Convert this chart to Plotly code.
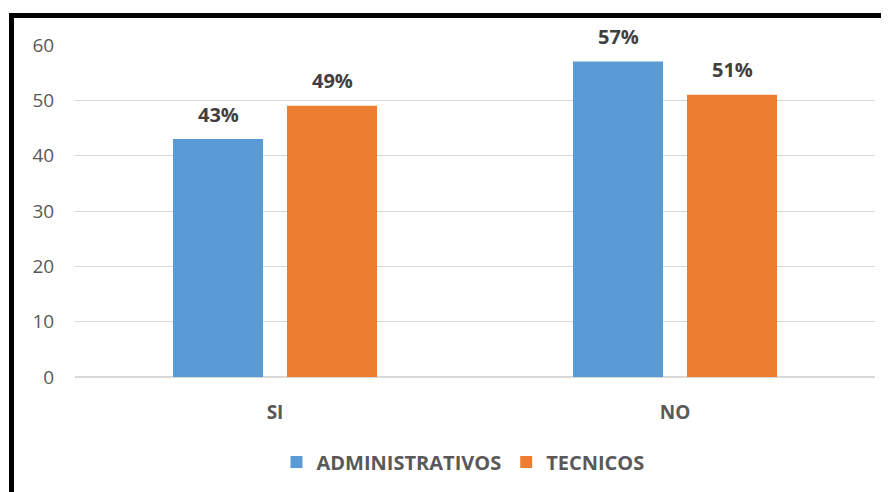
import plotly.graph_objects as go

categories = ["SI", "NO"]
admin_values = [43, 57]
tec_values = [49, 51]
series_names = ["ADMINISTRATIVOS", "TECNICOS"]
colors = ["#5B9BD5", "#ED7D31"]
y_ticks = [0, 10, 20, 30, 40, 50, 60]

FONT = "Open Sans"
OFF = 8  # the page body adds an 8px margin around the figure
W, H = 889 - OFF, 492 - OFF
ML, MR, MT, MB = 75 - OFF, 14, 45 - OFF, 115

fig = go.Figure()
for name, vals, col in zip(series_names, [admin_values, tec_values], colors):
    fig.add_trace(go.Bar(
        x=categories, y=vals, name=name, marker_color=col,
        marker_line_width=0,
    ))

# data labels as annotations above each bar
offsets = [-57, 57]
for vals, dx in zip([admin_values, tec_values], offsets):
    for c, v in zip(categories, vals):
        fig.add_annotation(
            x=c, y=v, xref="x", yref="y", text=f"{v}%", showarrow=False,
            xshift=dx, yshift=25, yanchor="middle",
            font=dict(family=FONT, size=20, color="#404040", weight="bold"),
        )

pw = W - ML - MR
ph = H - MT - MB
def px_x(p):
    return (p - OFF - ML) / pw
def px_y(p):
    return (H - MB - (p - OFF)) / ph

# black frame (top and left) of the original picture
fig.add_shape(type="line", xref="paper", yref="paper",
              x0=px_x(9), x1=px_x(900), y0=px_y(15.5), y1=px_y(15.5),
              line=dict(color="black", width=5))
fig.add_shape(type="line", xref="paper", yref="paper",
              x0=px_x(11.5), x1=px_x(11.5), y0=px_y(13), y1=px_y(500),
              line=dict(color="black", width=5))

fig.update_layout(
    width=W, height=H,
    margin=dict(l=ML, r=MR, t=MT, b=MB, autoexpand=False),
    paper_bgcolor="white", plot_bgcolor="white",
    barmode="group", bargap=0.43, bargroupgap=0.21,
    showlegend=True,
    legend=dict(orientation="h", x=px_x(463), xanchor="center",
                y=px_y(462), yanchor="middle",
                font=dict(family=FONT, size=20, color="#595959", weight="bold"),
                itemwidth=30, traceorder="normal"),
    xaxis=dict(showgrid=False, showline=False, zeroline=False,
               ticks="outside", ticklen=18, tickcolor="white",
               tickfont=dict(family=FONT, size=19, color="#595959", weight="bold")),
    yaxis=dict(range=[0, 60], tickvals=y_ticks, showgrid=True,
               gridcolor="#d9d9d9", gridwidth=1, zeroline=True,
               zerolinecolor="#d9d9d9", zerolinewidth=1.5, showline=False,
               ticks="outside", ticklen=16, tickcolor="white",
               tickfont=dict(family=FONT, size=19, color="#595959")),
)

fig.write_html("out.html")
